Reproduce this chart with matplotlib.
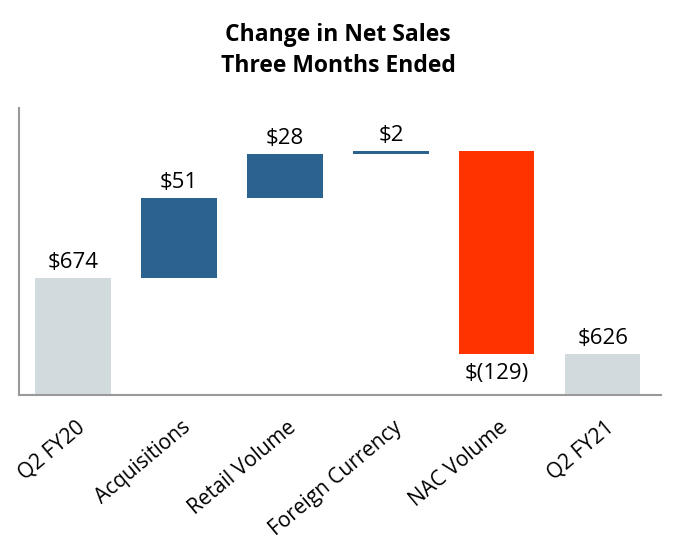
import matplotlib.pyplot as plt
from matplotlib.transforms import ScaledTranslation

# data
categories = ["Q2 FY20", "Acquisitions", "Retail Volume", "Foreign Currency", "NAC Volume", "Q2 FY21"]
values = [674, 51, 28, 2, -129, 626]
labels = ["$674", "$51", "$28", "$2", "$(129)", "$626"]
is_total = [True, False, False, False, False, True]

grey = "#D1DBDE"
blue = "#2B628E"
red = "#FF3300"

plt.rcParams["font.family"] = ["Open Sans", "DejaVu Sans"]

fig = plt.figure(figsize=(6.76, 5.6), dpi=100)
ax = fig.add_axes([0.028, 0.295, 0.95, 0.512])

ymin = 600
running = 0
for i, (v, tot) in enumerate(zip(values, is_total)):
    if tot:
        bottom = ymin
        height = v - ymin
        color = grey
        running = v
    else:
        bottom = running if v >= 0 else running + v
        height = abs(v)
        color = blue if v >= 0 else red
        running += v
    ax.bar(i, height, bottom=bottom, width=0.71, color=color)
    if v >= 0:
        ax.text(i, bottom + height + 3, labels[i], ha="center", va="bottom", fontsize=16)
    else:
        ax.text(i, bottom - 6, labels[i], ha="center", va="top", fontsize=16)

ax.set_xlim(-0.51, 5.55)
ax.set_ylim(ymin, 782)
ax.set_yticks([])
ax.set_xticks(range(len(categories)))
ax.set_xticklabels(categories, rotation=40, ha="right", rotation_mode="anchor", fontsize=15)
ax.tick_params(axis="x", length=0, pad=16)
shift = ScaledTranslation(2 / 100, 0, fig.dpi_scale_trans)
for lab in ax.get_xticklabels():
    lab.set_transform(lab.get_transform() + shift)

for s in ["top", "right"]:
    ax.spines[s].set_visible(False)
for s in ["left", "bottom"]:
    ax.spines[s].set_color("#999999")
    ax.spines[s].set_linewidth(1.5)

fig.text(0.5, 0.91, "Change in Net Sales\nThree Months Ended", ha="center", va="center",
         fontsize=16.5, fontweight="bold", linespacing=1.4)

fig.savefig("out.png", dpi=100)
